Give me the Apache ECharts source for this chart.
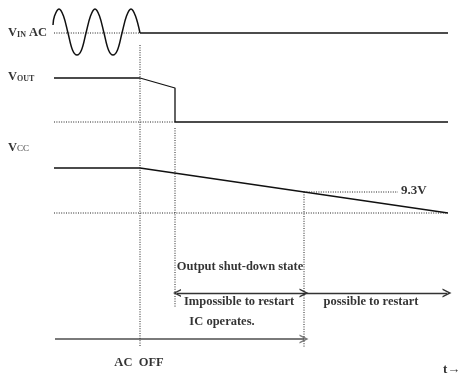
<!DOCTYPE html>
<html>
<head>
<meta charset="utf-8">
<script src="https://cdn.jsdelivr.net/npm/echarts@6/dist/echarts.min.js"></script>
<style>
html, body { margin: 0; background: #fff; }
#timing { width: 460px; height: 375px; }
</style>
</head>
<body>
<div id="timing"></div>
<script>
// x = time, y = level (top down), both in sheet units
const vinWave = [[53,25],[54.5,16],[59,9],[63.5,16],[68,33],[72.5,50],[77,55],[81.5,50],[86,33],[90.5,16],[95,9],[99.5,16],[104,33],[108.5,50],[113,55],[117.5,50],[122,33],[126.5,16],[131,9],[135.5,16],[140,33]]
const vinOff = [[140,33],[448,33]]
const vinRef = [[54,33],[140,33]]
const voutTrace = [[54,78],[140,78],[175,88],[175,122],[448,122]]
const voutRef = [[54,122],[175,122]]
const vccTrace = [[54,168],[140,168],[448,213]]
const vccRef = [[54,213],[448,213]]
const vcc93 = [[304,192],[398,192]]

// vertical markers
const acOffMark = [[140,45],[140,347]]
const shutDownMark = [[175,128],[175,308]]
const restartMark = [[304,192],[304,347]]

// arrows
const impossibleArrow = [[177,293],[304,293]]
const possibleArrow = [[304,293],[447,293]]
const icArrow = [[55,339],[304,339]]

// texts
const notes = [
    [240,267,'Output shut-down state'],
    [239,302,'Impossible to restart'],
    [371,302,'possible to restart'],
    [222,322,'IC operates.'],
    [139,363,'AC  OFF']
]
const sideNotes = [
    [401,191,'9.3V'],
    [443,370,'t\u2192']
]
const signalNames = [
    [8,33,'{v|V}{s|IN} {v|AC}'],
    [8,77,'{v|V}{s|OUT}'],
    [8,148,'{v|V}{c|CC}']
]

const ink = '#111'
const dotStyle = { color: '#222', width: 1, type: [1,1.4] }
const chevron = 'path://M0,10 L5,0 L10,10 L8.2,10 L5,3.6 L1.8,10 Z'
const serif = '"Liberation Serif", "Times New Roman", serif'

function seg(data, lineStyle, extra) {
    return Object.assign({
        type: 'line',
        data: data,
        showSymbol: false,
        symbol: 'none',
        silent: true,
        lineStyle: lineStyle
    }, extra || {})
}

function arrow(coords, symbol, lineStyle) {
    return {
        type: 'lines',
        coordinateSystem: 'cartesian2d',
        silent: true,
        symbol: symbol,
        symbolSize: [8, 9],
        lineStyle: Object.assign({ opacity: 1 }, lineStyle),
        itemStyle: { color: '#222' },
        data: [{ coords: coords }]
    }
}

const chartDom = document.getElementById('timing')
const myChart = echarts.init(chartDom, null, { renderer: 'canvas' })

const solid = { color: ink, width: 1.3 }
const textStyle = { color: '#000', fontFamily: serif, fontWeight: 'bold', fontSize: 12.5 }

const option = {
    animation: false,
    backgroundColor: '#fff',
    grid: { left: 0, right: 0, top: 0, bottom: 0 },
    xAxis: { type: 'value', min: 0, max: 460, show: false },
    yAxis: { type: 'value', min: 0, max: 375, inverse: true, show: false },
    series: [
        seg(vinWave, { color: ink, width: 1.5 }, { smooth: 0.35 }),
        seg(vinOff, solid),
        seg(vinRef, dotStyle),
        seg(voutTrace, solid),
        seg(voutRef, dotStyle),
        seg(vccTrace, solid),
        seg(vccRef, dotStyle),
        seg(vcc93, dotStyle),
        seg(acOffMark, dotStyle),
        seg(shutDownMark, dotStyle),
        seg(restartMark, dotStyle),
        arrow(impossibleArrow, [chevron, chevron], { color: '#333', width: 1.4 }),
        arrow(possibleArrow, ['none', chevron], { color: '#333', width: 1.4 }),
        arrow(icArrow, ['none', chevron], { color: '#7a7a7a', width: 2.2 }),
        {
            type: 'scatter',
            symbolSize: 0,
            silent: true,
            data: notes,
            label: Object.assign({
                show: true,
                position: 'inside',
                formatter: p => p.data[2]
            }, textStyle)
        },
        {
            type: 'scatter',
            symbolSize: 0,
            silent: true,
            data: sideNotes,
            label: Object.assign({
                show: true,
                position: 'right',
                distance: 0,
                formatter: p => p.data[2]
            }, textStyle, { fontSize: 13 })
        },
        {
            type: 'scatter',
            symbolSize: 0,
            silent: true,
            data: signalNames,
            label: {
                show: true,
                position: 'right',
                distance: 0,
                formatter: p => p.data[2],
                color: '#000',
                fontFamily: serif,
                fontWeight: 'bold',
                rich: {
                    v: { fontFamily: serif, fontWeight: 'bold', fontSize: 12.5, color: '#000' },
                    s: { fontFamily: serif, fontWeight: 'bold', fontSize: 8, color: '#000', padding: [3, 0, 0, 0] },
                    c: { fontFamily: serif, fontWeight: 'normal', fontSize: 9, color: '#000', padding: [2, 0, 0, 0] }
                }
            }
        }
    ]
}

myChart.setOption(option)
</script>
</body>
</html>
